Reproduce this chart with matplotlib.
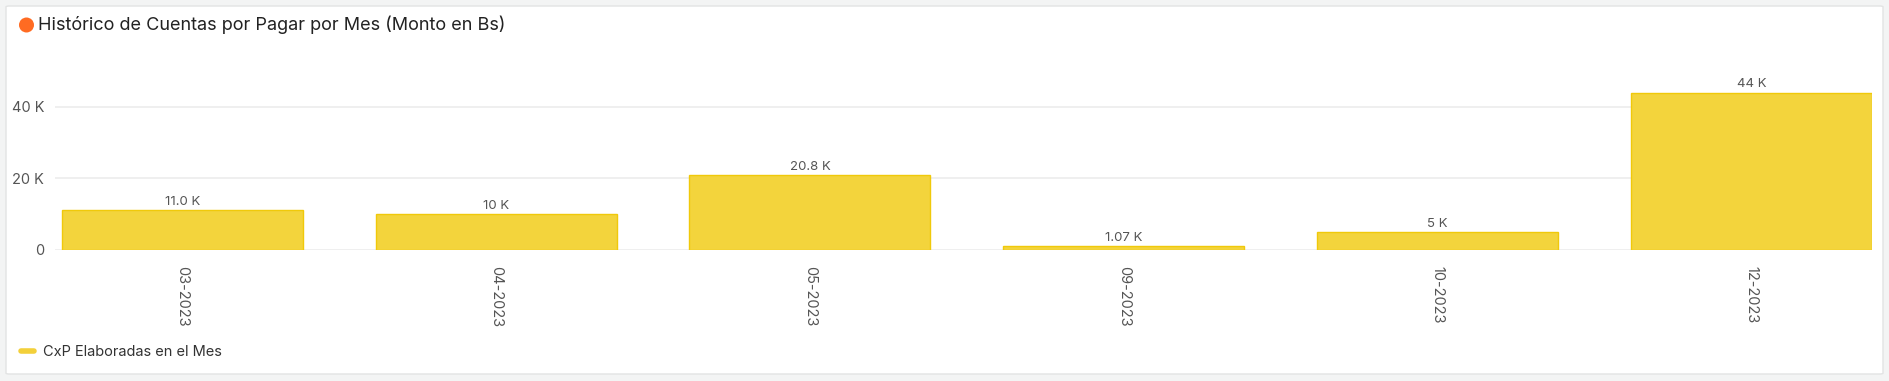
import matplotlib.pyplot as plt
from matplotlib.patches import FancyBboxPatch, Ellipse
from matplotlib.lines import Line2D
from matplotlib.ticker import FuncFormatter
import numpy as np

months = ["03-2023", "04-2023", "05-2023", "09-2023", "10-2023", "12-2023"]
amounts = [10980, 10000, 20800, 1070, 5000, 44000]
amount_labels = ["11.0 K", "10 K", "20.8 K", "1.07 K", "5 K", "44 K"]
series_name = "CxP Elaboradas en el Mes"
title = "Histórico de Cuentas por Pagar por Mes (Monto en Bs)"

plt.rcParams['font.family'] = ['Inter', 'DejaVu Sans']

fig = plt.figure(figsize=(18.9, 3.81), dpi=100)
fig.patch.set_facecolor("#f3f4f4")

# white panel behind everything
W, H = 1890.0, 381.0
panel = FancyBboxPatch((6 / W, 7 / H), 1877 / W, 368 / H,
                       boxstyle="round,pad=0,rounding_size=0.002",
                       transform=fig.transFigure, facecolor="white",
                       edgecolor="#e2e3e3", linewidth=1.0, zorder=-10)
fig.patches.append(panel)

# title with orange dot
dot = Ellipse((26.5 / W, 1 - 25 / H), 15 / W, 15 / H, transform=fig.transFigure,
              facecolor="#ff6b22", edgecolor="none", zorder=-5)
fig.patches.append(dot)
fig.text(38 / W, 1 - 25 / H, title, fontsize=13, color="#222222", va="center", ha="left")

ax = fig.add_axes([55.4 / W, 131.5 / H, (1872 - 55.4) / W, (317 - 131.5) / H])
ax.set_facecolor("none")

x = np.arange(len(months))
bw = 0.768
bars = ax.bar(x, amounts, width=bw, color="#f3d43c", edgecolor="#f0c90a", linewidth=1.0, zorder=2)
ax.bar_label(bars, labels=amount_labels, padding=1.5, fontsize=9.5, color="#555555")

ax.set_xlim(-bw / 2 - 0.02, len(months) - 1 + bw / 2)
ax.set_ylim(0, 52000)
ax.set_yticks([0, 20000, 40000])
ax.yaxis.set_major_formatter(FuncFormatter(lambda v, p: "0" if v == 0 else "%d K" % (v / 1000)))
ax.grid(axis="y", color="#ececec", linewidth=1.2, zorder=0)
ax.set_axisbelow(True)
ax.set_xticks(x)
ax.set_xticklabels(months, rotation=270, fontsize=10.5, color="#555555")
ax.tick_params(axis="y", length=0, labelsize=10.5, labelcolor="#555555", pad=8)
ax.tick_params(axis="x", length=0, pad=12)
for s in ax.spines.values():
    s.set_visible(False)

handle = Line2D([], [], color="#f3d03a", lw=4, solid_capstyle="round")
fig.legend([handle], [series_name], loc="center left", bbox_to_anchor=(8 / W, 29 / H),
           frameon=False, fontsize=10.5, handlelength=0.9, handletextpad=0.6,
           labelcolor="#333333")

fig.savefig("out.png", dpi=100, facecolor=fig.get_facecolor())
